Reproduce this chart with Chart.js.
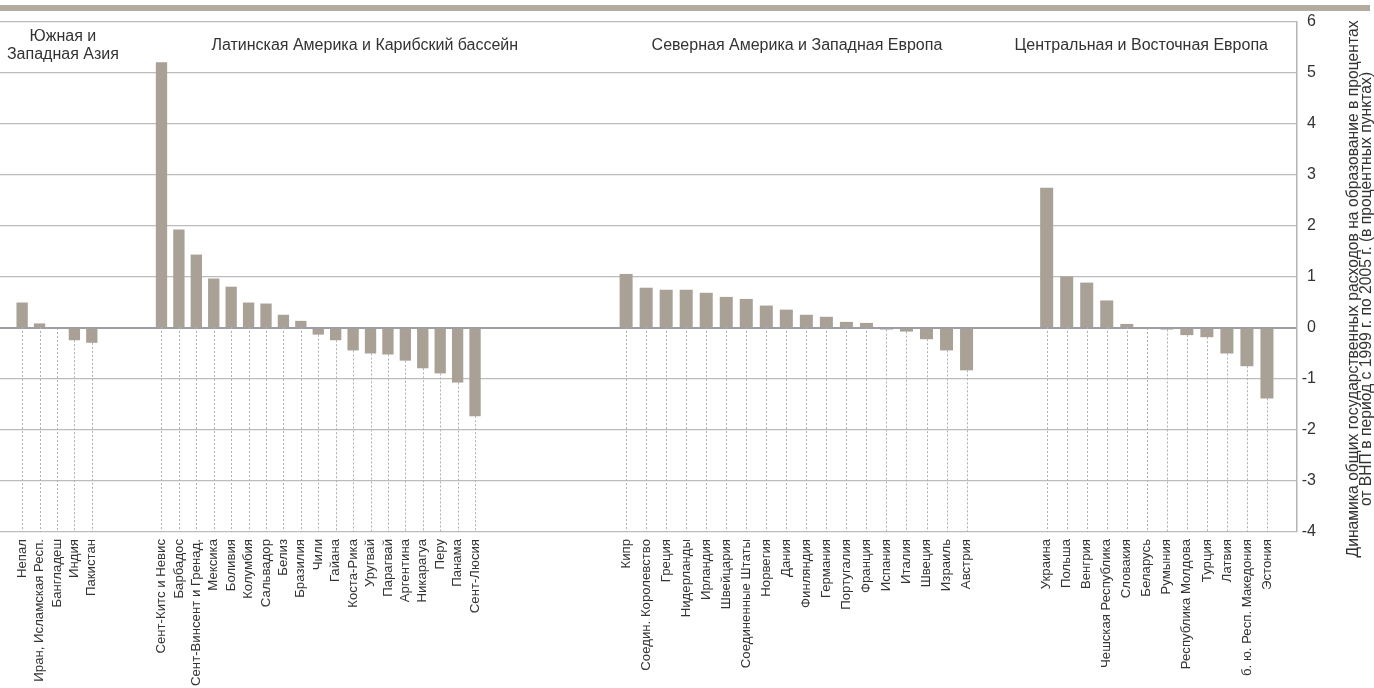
<!DOCTYPE html>
<html>
<head>
<meta charset="utf-8">
<script src="https://cdn.jsdelivr.net/npm/chart.js@4.4.1/dist/chart.umd.min.js"></script>
<style>
  body { margin: 0; background: #fff; width: 1374px; height: 688px; overflow: hidden; position: relative; }
  #topbar { position: absolute; left: 0; top: 5px; width: 1370px; height: 6px; background: #b3aaa0; }
  #leftBox { position: absolute; left: -4px; top: 0; width: 540px; height: 688px; }
  #rightBox { position: absolute; left: 536px; top: 0; width: 838px; height: 688px; }
</style>
</head>
<body>
<div id="topbar"></div>
<div id="leftBox"><canvas id="leftChart"></canvas></div>
<div id="rightBox"><canvas id="rightChart"></canvas></div>
<script>
// data
var saLabels = ['Непал', 'Иран, Исламская Респ.', 'Бангладеш', 'Индия', 'Пакистан'];
var saValues = [0.50, 0.09, 0, -0.24, -0.29];

var laLabels = ['Сент-Китс и Невис', 'Барбадос', 'Сент-Винсент и Гренад.', 'Мексика', 'Боливия',
    'Колумбия', 'Сальвадор', 'Белиз', 'Бразилия', 'Чили', 'Гайана', 'Коста-Рика', 'Уругвай',
    'Парагвай', 'Аргентина', 'Никарагуа', 'Перу', 'Панама', 'Сент-Люсия'];
var laValues = [5.21, 1.93, 1.44, 0.97, 0.81, 0.50, 0.48, 0.26, 0.14, -0.13, -0.24, -0.44, -0.50,
    -0.52, -0.64, -0.79, -0.89, -1.07, -1.73];

var naLabels = ['Кипр', 'Соедин. Королевство', 'Греция', 'Нидерланды', 'Ирландия', 'Швейцария',
    'Соединенные Штаты', 'Норвегия', 'Дания', 'Финляндия', 'Германия', 'Португалия', 'Франция',
    'Испания', 'Италия', 'Швеция', 'Израиль', 'Австрия'];
var naValues = [1.06, 0.79, 0.75, 0.75, 0.69, 0.61, 0.57, 0.44, 0.36, 0.26, 0.22, 0.12, 0.10,
    -0.03, -0.07, -0.22, -0.44, -0.83];

var ceeLabels = ['Украина', 'Польша', 'Венгрия', 'Чешская Республика', 'Словакия', 'Беларусь',
    'Румыния', 'Республика Молдова', 'Турция', 'Латвия', 'б. ю. Респ. Македония', 'Эстония'];
var ceeValues = [2.75, 1.01, 0.89, 0.54, 0.08, 0, -0.03, -0.14, -0.18, -0.50, -0.75, -1.38];

var regionTitles = [['Южная и', 'Западная Азия'], ['Латинская Америка и Карибский бассейн'],
    ['Северная Америка и Западная Европа'], ['Центральная и Восточная Европа']];
var yTicks = [6, 5, 4, 3, 2, 1, 0, -1, -2, -3, -4];
var yTitle = ['Динамика общих государственных расходов на образование в процентах',
    'от ВНП в период с 1999 г. по 2005 г. (в процентных пунктах)'];

var FONT = '"Liberation Sans", Arial, sans-serif';
var TEXT = '#333';
var BAR = '#a9a096';

// build a category list: blank slots between groups
function build(parts) {
    var labels = [], values = [];
    parts.forEach(function (p) {
        if (typeof p === 'number') {
            for (var i = 0; i < p; i++) { labels.push(''); values.push(null); }
        } else {
            labels = labels.concat(p[0]);
            values = values.concat(p[1]);
        }
    });
    return {labels: labels, values: values};
}

var leftData = build([1, [saLabels, saValues], 3, [laLabels, laValues], 3]);
var rightData = build([4, [naLabels, naValues], 3, [ceeLabels, ceeValues], 1]);

// dotted lines under each bar
var dropLines = {
    id: 'dropLines',
    beforeDatasetsDraw: function (chart) {
        var meta = chart.getDatasetMeta(0), ctx = chart.ctx, bottom = chart.chartArea.bottom;
        var labels = chart.data.labels;
        ctx.save();
        ctx.strokeStyle = '#b0b0b0';
        ctx.lineWidth = 1;
        ctx.setLineDash([2, 2]);
        meta.data.forEach(function (bar, i) {
            if (labels[i] === '') return;
            var x = Math.round(bar.x) + 0.5;
            var y = Math.max(bar.y, bar.base);
            ctx.beginPath();
            ctx.moveTo(x, y);
            ctx.lineTo(x, bottom);
            ctx.stroke();
        });
        ctx.restore();
    }
};

// region headers between the top two grid lines
var headers = {
    id: 'headers',
    afterDraw: function (chart, args, opts) {
        var xs = chart.scales.x, ctx = chart.ctx;
        ctx.save();
        ctx.font = '16px ' + FONT;
        ctx.fillStyle = TEXT;
        ctx.textAlign = 'center';
        ctx.textBaseline = 'middle';
        opts.items.forEach(function (h) {
            var px = xs.getPixelForValue(h.at);
            var y0 = 46 - (h.lines.length - 1) * 9;
            h.lines.forEach(function (t, i) { ctx.fillText(t, px, y0 + i * 18); });
        });
        ctx.restore();
    }
};

// right axis title, reading bottom to top
var yTitlePlugin = {
    id: 'yTitle',
    afterDraw: function (chart) {
        var ctx = chart.ctx, a = chart.chartArea;
        ctx.save();
        ctx.font = '15.7px ' + FONT;
        ctx.fillStyle = TEXT;
        ctx.textAlign = 'center';
        ctx.textBaseline = 'middle';
        ctx.translate(a.right + 57, (a.top + a.bottom) / 2 + 12);
        ctx.rotate(-Math.PI / 2);
        ctx.fillText(yTitle[0], 0, 0);
        ctx.fillText(yTitle[1], 0, 13);
        ctx.restore();
    }
};

function gridColor(c) { return c.tick && c.tick.value === 0 ? '#9e9ea4' : '#bcbcbc'; }
function gridWidth(c) { return c.tick && c.tick.value === 0 ? 2 : 1.3; }

function makeChart(id, d, headerItems, showAxis) {
    var ctx = document.getElementById(id).getContext('2d');
    return new Chart(ctx, {
        type: 'bar',
        data: {
            labels: d.labels,
            datasets: [{
                data: d.values,
                backgroundColor: BAR,
                barPercentage: 0.65,
                categoryPercentage: 1.0
            }]
        },
        options: {
            responsive: true,
            maintainAspectRatio: false,
            animation: false,
            layout: {padding: {top: 22, left: 0, right: showAxis ? 58 : 0, bottom: 0}},
            plugins: {
                legend: {display: false},
                tooltip: {enabled: false},
                headers: {items: headerItems}
            },
            scales: {
                x: {
                    grid: {display: false, drawTicks: false},
                    border: {display: false},
                    ticks: {
                        color: TEXT,
                        font: {family: FONT, size: 13.2},
                        minRotation: 90,
                        maxRotation: 90,
                        autoSkip: false,
                        padding: 7
                    },
                    afterFit: function (s) { s.height = 156; s.paddingLeft = 0; s.paddingRight = 0; }
                },
                y: {
                    position: showAxis ? 'right' : 'left',
                    min: -4,
                    max: 6,
                    afterBuildTicks: function (s) { s.ticks = yTicks.map(function (v) { return {value: v}; }); },
                    grid: {color: gridColor, lineWidth: gridWidth, drawTicks: false},
                    border: {display: showAxis, color: '#b4b4b4', width: 1.5},
                    ticks: {
                        display: showAxis,
                        color: TEXT,
                        font: {family: FONT, size: 16},
                        padding: 2,
                        crossAlign: 'far'
                    },
                    afterFit: function (s) {
                        s.width = showAxis ? 19 : 0;
                        s.paddingTop = 0;
                        s.paddingBottom = 0;
                    }
                }
            }
        },
        plugins: showAxis ? [dropLines, headers, yTitlePlugin] : [dropLines, headers]
    });
}

makeChart('leftChart', leftData, [
    {lines: regionTitles[0], at: 3.34},
    {lines: regionTitles[1], at: 20.67}
], false);

makeChart('rightChart', rightData, [
    {lines: regionTitles[2], at: 12.53},
    {lines: regionTitles[3], at: 29.72}
], true);
</script>
</body>
</html>
